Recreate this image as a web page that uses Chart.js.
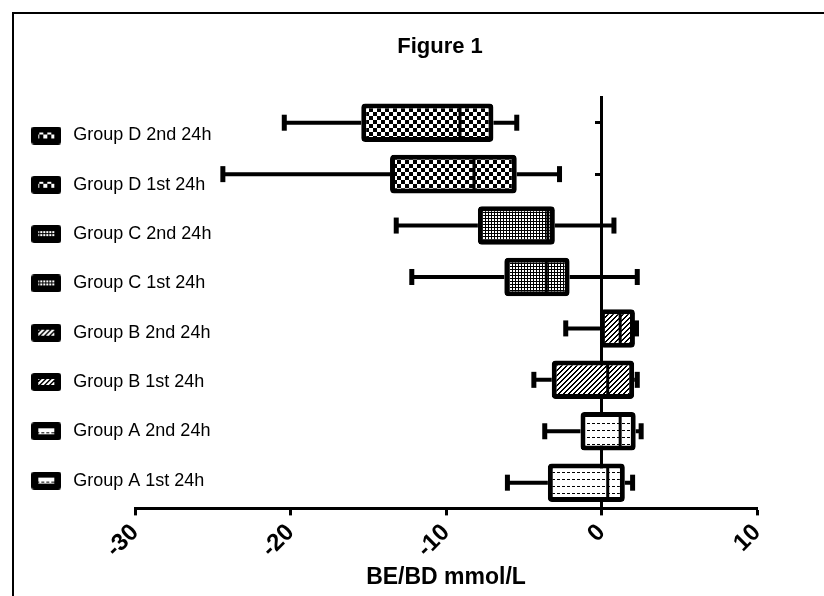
<!DOCTYPE html>
<html><head><meta charset="utf-8">
<script src="https://cdn.jsdelivr.net/npm/chart.js@4/dist/chart.umd.min.js"></script>
<style>
html,body{margin:0;padding:0;background:#fff;overflow:hidden;width:824px;height:596px;}
#frame{position:absolute;left:12px;top:12px;width:1000px;height:1000px;border:2px solid #000;}
#c{position:absolute;left:-3px;top:0;}
</style></head><body>
<div id="frame"></div>
<canvas id="c" width="886" height="596"></canvas>
<script>
// ---- data ----
const categories = ['Group D 2nd 24h', 'Group D 1st 24h', 'Group C 2nd 24h', 'Group C 1st 24h',
                    'Group B 2nd 24h', 'Group B 1st 24h', 'Group A 2nd 24h', 'Group A 1st 24h'];
const whiskerMin = [-20.4, -24.35, -13.2, -12.2, -2.3, -4.35, -3.65, -6.05];
const quartile1  = [-15.45, -13.6, -7.95, -6.25, -0.1, -3.2, -1.35, -3.45];
const medians    = [-9.1, -8.2, -3.45, -3.55, 1.2, 0.4, 1.2, 0.4];
const quartile3  = [-6.95, -5.45, -3.0, -2.05, 2.15, 2.1, 2.2, 1.5];
const whiskerMax = [-5.45, -2.7, 0.8, 2.3, 2.25, 2.3, 2.55, 2.0];
const xTickValues = [-30, -20, -10, 0, 10];
const groupOfRow = ['D', 'D', 'C', 'C', 'B', 'B', 'A', 'A'];

const FONT = "'Liberation Sans', Arial, sans-serif";

// ---- fill patterns ----
function makeTile(w, h, bg, draw) {
  const c = document.createElement('canvas'); c.width = w; c.height = h;
  const g = c.getContext('2d');
  g.fillStyle = bg; g.fillRect(0, 0, w, h);
  g.fillStyle = bg === '#fff' ? '#000' : '#fff'; draw(g);
  return c;
}
const tiles = {
  D: makeTile(8, 8, '#fff', g => { g.fillRect(0, 0, 4, 4); g.fillRect(4, 4, 4, 4); }),
  C: makeTile(3, 3, '#000', g => { g.fillRect(0, 0, 2, 2); }),
  B: makeTile(5, 5, '#fff', g => { for (let i = 0; i < 5; i++) { g.fillRect(i, 4 - i, 1, 1); g.fillRect(i, (5 - i) % 5, 1, 1); } }),
  A: makeTile(5, 7, '#fff', g => { g.fillRect(0, 3, 3, 1); })
};
const canvas = document.getElementById('c');
const ctx = canvas.getContext('2d');
const patterns = groupOfRow.map(k => ctx.createPattern(tiles[k], 'repeat'));

function makeSwatch(tile) {
  const c = document.createElement('canvas'); c.width = 30; c.height = 18;
  const g = c.getContext('2d');
  g.fillStyle = '#000'; g.beginPath(); g.roundRect(0, 0, 30, 18, 3); g.fill();
  g.fillStyle = g.createPattern(tile, 'repeat'); g.fillRect(7, 6, 16, 6);
  return c;
}
const swatches = groupOfRow.map(k => makeSwatch(tiles[k]));

// ---- whiskers, caps and medians drawn through the chart scales ----
const boxPlotPlugin = {
  id: 'boxPlotExtras',
  afterLayout(chart) {
    // let the legend text run over into the plot region, as in the original figure
    const lg = chart.legend;
    if (lg) { lg.width = 280; lg.right = lg.left + 280; }
  },
  beforeDatasetsDraw(chart) {
    const x = chart.scales.x, y = chart.scales.y, c = chart.ctx;
    c.save();
    c.strokeStyle = '#000'; c.fillStyle = '#000'; c.lineWidth = 4;
    categories.forEach((cat, i) => {
      const py = y.getPixelForValue(i);
      const xmin = x.getPixelForValue(whiskerMin[i]), xq1 = x.getPixelForValue(quartile1[i]);
      const xq3 = x.getPixelForValue(quartile3[i]), xmax = x.getPixelForValue(whiskerMax[i]);
      c.beginPath(); c.moveTo(xmin, py); c.lineTo(xq1, py); c.moveTo(xq3, py); c.lineTo(xmax, py); c.stroke();
      c.fillRect(xmin - 2.5, py - 8, 5, 16);
      c.fillRect(xmax - 2.5, py - 8, 5, 16);
    });
    c.restore();
  },
  afterDatasetsDraw(chart) {
    const x = chart.scales.x, c = chart.ctx;
    const meta = chart.getDatasetMeta(0);
    c.save();
    c.strokeStyle = '#000'; c.lineWidth = 3;
    meta.data.forEach((bar, i) => {
      const px = x.getPixelForValue(medians[i]);
      const h = bar.height / 2 - 4;
      c.beginPath(); c.moveTo(px, bar.y - h); c.lineTo(px, bar.y + h); c.stroke();
    });
    c.restore();
  }
};

new Chart(canvas, {
  type: 'bar',
  data: {
    labels: categories,
    datasets: [{
      label: 'BE/BD',
      data: categories.map((c, i) => [quartile1[i], quartile3[i]]),
      backgroundColor: patterns,
      borderColor: '#000',
      borderWidth: 5,
      borderRadius: 4,
      borderSkipped: false,
      barPercentage: 0.75,
      categoryPercentage: 1
    }]
  },
  options: {
    indexAxis: 'y',
    responsive: false,
    animation: false,
    devicePixelRatio: 1,
    layout: { padding: 0 },
    scales: {
      x: {
        type: 'linear', position: 'bottom', min: -30, max: 10,
        afterBuildTicks: s => { s.ticks = xTickValues.map(v => ({ value: v })); },
        ticks: { color: '#000', font: { family: FONT, size: 24, weight: 'bold' }, minRotation: 45, maxRotation: 45, padding: 3 },
        grid: { display: true, drawOnChartArea: false, drawTicks: true, tickLength: 7, tickWidth: 3, tickColor: '#000' },
        border: { display: true, color: '#000', width: 3 },
        title: { display: true, text: 'BE/BD mmol/L', color: '#000', font: { family: FONT, size: 23, weight: 'bold' }, padding: { top: 0, bottom: 5 } },
        afterFit: s => { s.height = 87.6; }
      },
      y: {
        type: 'category', position: { x: 0 },
        grid: { display: true, offset: false, drawOnChartArea: false, drawTicks: true, tickLength: 5, tickWidth: 3, tickColor: '#000' },
        border: { display: true, color: '#000', width: 3 },
        ticks: { display: false }
      },
      rightSpace: {
        type: 'category', position: 'right', axis: 'y',
        grid: { display: false }, border: { display: false }, ticks: { display: false },
        afterFit: s => { s.width = 126; }
      }
    },
    plugins: {
      title: {
        display: true, text: 'Figure 1', color: '#000',
        font: { family: FONT, size: 22, weight: 'bold' },
        padding: { top: 33.8, bottom: 36.8 }
      },
      legend: {
        display: true, position: 'left', align: 'start', maxWidth: 138,
        title: { display: true, text: ' ', font: { size: 12 }, padding: { top: 80.8, bottom: 0 } },
        labels: {
          usePointStyle: true, pointStyleWidth: 36, padding: 31.3, color: '#000',
          font: { family: FONT, size: 18 },
          generateLabels: () => categories.map((c, i) => ({
            text: c, pointStyle: swatches[i], fillStyle: '#000', strokeStyle: '#000', fontColor: '#000',
            lineWidth: 0, hidden: false, datasetIndex: 0, index: i
          }))
        },
        onClick: null
      },
      tooltip: { enabled: false }
    }
  },
  plugins: [boxPlotPlugin]
});
</script>
</body></html>
